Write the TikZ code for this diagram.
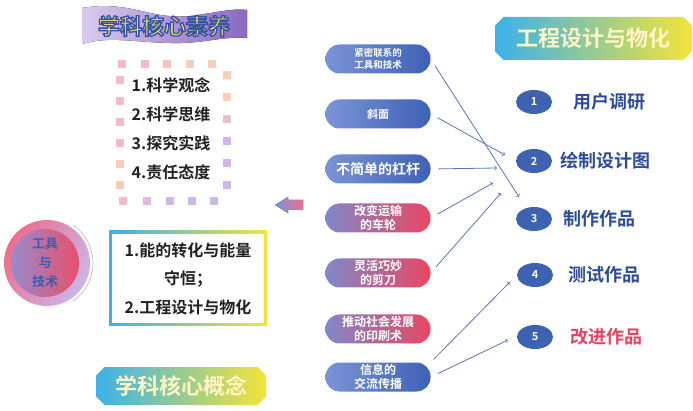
\documentclass[tikz,border=0pt]{standalone}
\usepackage{fontspec}
\setmainfont{Noto Sans CJK SC}[BoldFont={Noto Sans CJK SC Bold}]
\usetikzlibrary{shapes.geometric,shapes.misc}

\definecolor{pillblueL}{HTML}{7A94D6}
\definecolor{pillblueR}{HTML}{3E61B5}
\definecolor{pillpurple}{HTML}{8087CA}
\definecolor{pillred}{HTML}{EA4761}
\definecolor{stepblue}{HTML}{3C62B1}
\definecolor{stepink}{HTML}{2D4C98}
\definecolor{stepred}{HTML}{E7435E}
\definecolor{linkblue}{HTML}{5A77B7}
\definecolor{sky}{HTML}{3CB1EA}
\definecolor{lemon}{HTML}{F4E43A}
\definecolor{paleyellow}{HTML}{FFF5C4}
\definecolor{lilac}{HTML}{DACBEE}
\definecolor{violet}{HTML}{8A68C2}
\definecolor{titleyellow}{HTML}{F8E56A}
\definecolor{sqpink}{HTML}{F5B9CB}
\definecolor{sqpeach}{HTML}{F9CDB6}
\definecolor{sqlilac}{HTML}{CDB7E7}
\definecolor{ringpink}{HTML}{EC6F8E}
\definecolor{ringlilac}{HTML}{CBB6E8}
\definecolor{corepurple}{HTML}{988ACB}
\definecolor{corered}{HTML}{EA4E6B}
\definecolor{coretext}{HTML}{3A5DB3}
\definecolor{inkdark}{HTML}{222222}

% yellow letters with a blue outline
\newcommand{\outlined}[1]{\special{pdf:literal direct 2 Tr 1.4 w 0.204 0.325 0.651 RG}#1\special{pdf:literal direct 0 Tr 0.4 w}}

\begin{document}
\begin{tikzpicture}[
        x=1pt, y=-1pt,
        pill/.style={
            rectangle,
            rounded corners=14pt,
            minimum width=105pt,
            minimum height=29pt,
            align=center,
            text=white,
            inner sep=2pt,
            font=\bfseries\fontsize{12}{13.5}\selectfont
        },
        bluepill/.style={pill, left color=pillblueL, right color=pillblueR},
        redpill/.style={pill, left color=pillpurple, right color=pillred},
        stepdot/.style={
            ellipse,
            fill=stepblue,
            minimum width=36pt,
            minimum height=24pt,
            inner sep=0pt,
            text=white,
            font=\bfseries\fontsize{11}{11}\selectfont
        },
        steplabel/.style={
            anchor=west,
            text=stepink,
            inner sep=0pt,
            font=\bfseries\fontsize{18}{18}\selectfont
        },
        banner/.style={
            chamfered rectangle,
            chamfered rectangle xsep=5pt,
            left color=sky,
            right color=lemon,
            text=paleyellow,
            inner sep=0pt,
            font=\bfseries\fontsize{22}{22}\selectfont
        },
        link/.style={->, linkblue, line width=0.8pt, shorten <=8pt}
    ]

        \fill[white] (0,0) rectangle (693,411);
        \useasboundingbox (0,0) rectangle (693,411);

        % core literacy title and frame
        \fill[left color=lilac, right color=violet] (82,8) .. controls (130,0) and (150,20) .. (190,16)
            .. controls (215,13) and (232,8) .. (247,10) -- (247,38)
            .. controls (220,36) and (205,44) .. (170,43)
            .. controls (130,42) and (110,36) .. (82,44) -- cycle;
        \node[font=\bfseries\fontsize{22}{22}\selectfont, text=titleyellow] (literacyTitle) at (164,26) {\outlined{学科核心素养}};

        \foreach \sx/\sc in {122/sqpink, 145/sqpink, 167/sqpink!50!sqpeach, 190/sqpeach, 212/sqpeach}
            \fill[\sc] (\sx-4,60) rectangle ++(8,8);
        \foreach \sy/\sc in {75/sqpeach, 97/sqpeach, 119/sqpeach!50!sqlilac, 141/sqlilac, 163/sqlilac, 185/sqlilac}
            \fill[\sc] (223,\sy-4) rectangle ++(8,8);
        \foreach \sx/\sc in {123/sqpink, 147/sqpink!50!sqlilac, 170/sqlilac, 192/sqlilac, 214/sqlilac}
            \fill[\sc] (\sx-4,197) rectangle ++(8,8);
        \foreach \sy/\sc in {80/sqpink, 101/sqpink, 122/sqpink, 143/sqpink, 164/sqpeach, 185/sqpeach}
            \fill[\sc] (116,\sy-4) rectangle ++(8,8);

        \node[align=left, text=inkdark, font=\bfseries\fontsize{16}{29}\selectfont] (literacy) at (171,128.5) {1.科学观念\\2.科学思维\\3.探究实践\\4.责任态度};

        % tools circle
        \node[circle, minimum size=86pt, left color=ringpink, right color=ringlilac, shading angle=60] (toolRing) at (47,263) {};
        \node[circle, minimum size=68pt, left color=corepurple, right color=corered, align=center, text=coretext,
              font=\bfseries\fontsize{13}{19}\selectfont] (tools) at (45,263) {工具\\与\\技术};
        \draw[gray!55, line width=0.6pt] (toolRing.center) ++(-55:46) arc (-55:55:46);

        % concept box
        \node[minimum width=158pt, minimum height=95pt, left color=sky, right color=lemon] (conceptFrame) at (188,278.5) {};
        \node[fill=white, minimum width=152pt, minimum height=89pt, align=center, text=inkdark,
              font=\bfseries\fontsize{16}{28.5}\selectfont] (concepts) at (conceptFrame) {1.能的转化与能量\\守恒；\\2.工程设计与物化};

        \node[banner, minimum width=170pt, minimum height=38pt] (conceptTitle) at (181,386) {学科核心概念};

        % back arrow
        \fill[left color=pillblueL, right color=ringpink] (275,205) -- (288,197) -- (288,200) -- (303,200)
            -- (303,210) -- (288,210) -- (288,213) -- cycle;

        % topics
        \node[bluepill, font=\bfseries\fontsize{9.5}{11.5}\selectfont] (p1) at (378,59) {紧密联系的\\工具和技术};
        \node[bluepill, font=\bfseries\fontsize{11}{12}\selectfont] (p2) at (378,114) {斜面};
        \node[bluepill, font=\bfseries\fontsize{14}{15}\selectfont] (p3) at (378,169) {不简单的杠杆};
        \node[redpill] (p4) at (378,218) {改变运输\\的车轮};
        \node[redpill] (p5) at (378,273) {灵活巧妙\\的剪刀};
        \node[redpill] (p6) at (378,329) {推动社会发展\\的印刷术};
        \node[bluepill] (p7) at (378,377) {信息的\\交流传播};

        % design steps
        \node[banner, minimum width=197pt, minimum height=43pt] (designTitle) at (593.5,38.5) {工程设计与物化};

        \node[stepdot] (s1) at (534,102) {1};
        \node[stepdot] (s2) at (534,161) {2};
        \node[stepdot] (s3) at (534,219) {3};
        \node[stepdot] (s4) at (535,275) {4};
        \node[stepdot] (s5) at (535,337) {5};

        \node[steplabel] (l1) at (573,102) {用户调研};
        \node[steplabel] (l2) at (560,161) {绘制设计图};
        \node[steplabel] (l3) at (563,219) {制作作品};
        \node[steplabel] (l4) at (568,275) {测试作品};
        \node[steplabel, text=stepred] (l5) at (570,337) {改进作品};

        \draw[link] (p1.east) -- ([shift={(-15pt,22pt)}]s3.center);
        \draw[link] (p2.east) -- ([shift={(-29pt,6pt)}]s2.center);
        \draw[link] (p3.east) -- ([shift={(-37pt,-7pt)}]s2.center);
        \draw[link] (p4.east) -- ([shift={(-41pt,-22pt)}]s2.center);
        \draw[link] (p5.east) -- ([shift={(-33pt,26pt)}]s3.center);
        \draw[link, shorten <=4pt] (p7.north east) -- ([shift={(-25pt,-7pt)}]s4.center);
        \draw[link] (p7.east) -- ([shift={(-27pt,-3pt)}]s5.center);

    \end{tikzpicture}
\end{document}
